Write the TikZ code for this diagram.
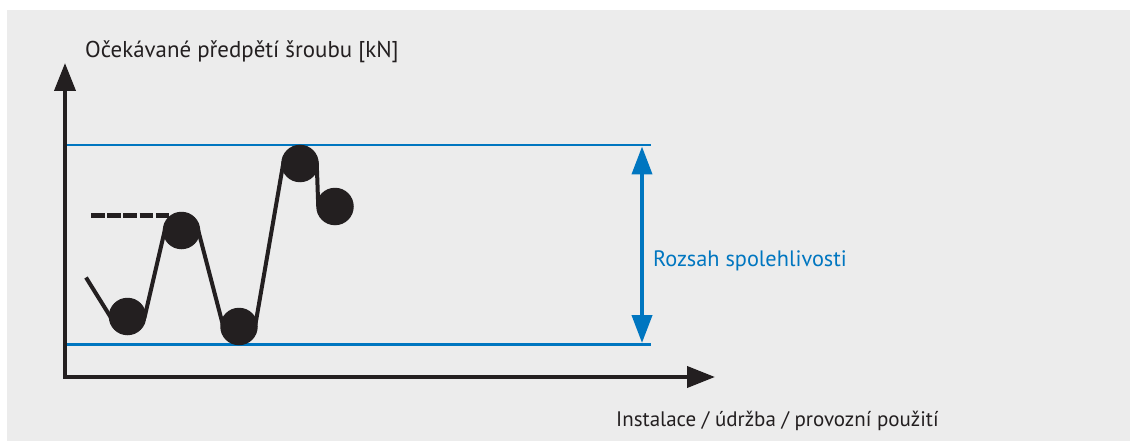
\documentclass[tikz,border=0pt]{standalone}
\usepackage{fontspec}
\setmainfont{PT Sans}
\usetikzlibrary{arrows.meta}
\definecolor{bgray}{HTML}{ECECEC}
\definecolor{ink}{HTML}{231F20}
\definecolor{rblue}{RGB}{0,118,192}
\pgfdeclarelayer{back}
\pgfdeclarelayer{mid}
\pgfsetlayers{back,mid,main}
\tikzset{
  axisline/.style={draw=ink, line width=4pt, line join=miter,
    {Triangle[length=28pt,width=21pt]}-{Triangle[length=28pt,width=21pt]}},
  boundline/.style={draw=rblue, line width=2.2pt},
  rangearrow/.style={draw=rblue, line width=4pt,
    {Triangle[length=28pt,width=20pt]}-{Triangle[length=28pt,width=20pt]}},
  curveline/.style={draw=ink, line width=4pt, line join=miter},
  dashline/.style={draw=ink, line width=4.6pt, dash pattern=on 13.5pt off 2.7pt},
  dotnode/.style={circle, fill=ink, minimum size=37.5pt, inner sep=0pt, outer sep=0pt},
  lbl/.style={anchor=base west, inner sep=0pt, font=\fontsize{22.3}{26}\selectfont, text=ink},
}
\begin{document}
\begin{tikzpicture}[x=1pt,y=-1pt]
\useasboundingbox (0,0) rectangle (1130,441);
\begin{pgfonlayer}{back}
\fill[bgray] (7,10) rectangle (1130,441);
\end{pgfonlayer}
% axes
\coordinate (O) at (65,377);
\coordinate (ytip) at (65,63);
\coordinate (xtip) at (715,377);
\draw[axisline] (ytip) -- (O) -- (xtip);
% bounds
\coordinate (tl) at (67,145);
\coordinate (tr) at (651,145);
\coordinate (bl) at (67,344.5);
\coordinate (br) at (651,344.5);
\draw[boundline] (tl) -- (tr);
\draw[boundline] (bl) -- (br);
\coordinate (rt) at (642,146.5);
\coordinate (rb) at (642,343);
\draw[rangearrow] (rt) -- (rb);
\node[lbl, text=rblue] (rlab) at (653,266) {Rozsah spolehlivosti};
% points
\node[dotnode] (p1) at (127.5,316.5) {};
\node[dotnode] (p2) at (181.5,230.5) {};
\node[dotnode] (p3) at (239,326.5) {};
\node[dotnode] (p4) at (300,163.5) {};
\node[dotnode] (p5) at (335,206.5) {};
\coordinate (s) at (86,277.5);
\coordinate (d0) at (91,215.3);
\coordinate (d1) at (170,215.3);
\begin{pgfonlayer}{mid}
\draw[curveline] (s) -- ([xshift=1.5pt]p1.west) -- ([xshift=-1.5pt]p1.east)
  -- ([xshift=2pt]p2.west) -- ([xshift=-2pt]p2.east)
  -- ([xshift=2pt,yshift=4pt]p3.west) -- ([xshift=-2pt,yshift=4pt]p3.east)
  -- ([xshift=2pt]p4.west) -- ([xshift=-2pt]p4.east) -- ([xshift=2pt]p5.west);
\draw[dashline] (d0) -- (d1);
\end{pgfonlayer}
% labels
\node[lbl, font=\fontsize{22.9}{26}\selectfont] (ylab) at (85,58) {Očekávané předpětí šroubu [kN]};
\node[lbl, font=\fontsize{21}{25}\selectfont] (xlab) at (616,426) {Instalace / údržba / provozní použití};
\end{tikzpicture}
\end{document}
